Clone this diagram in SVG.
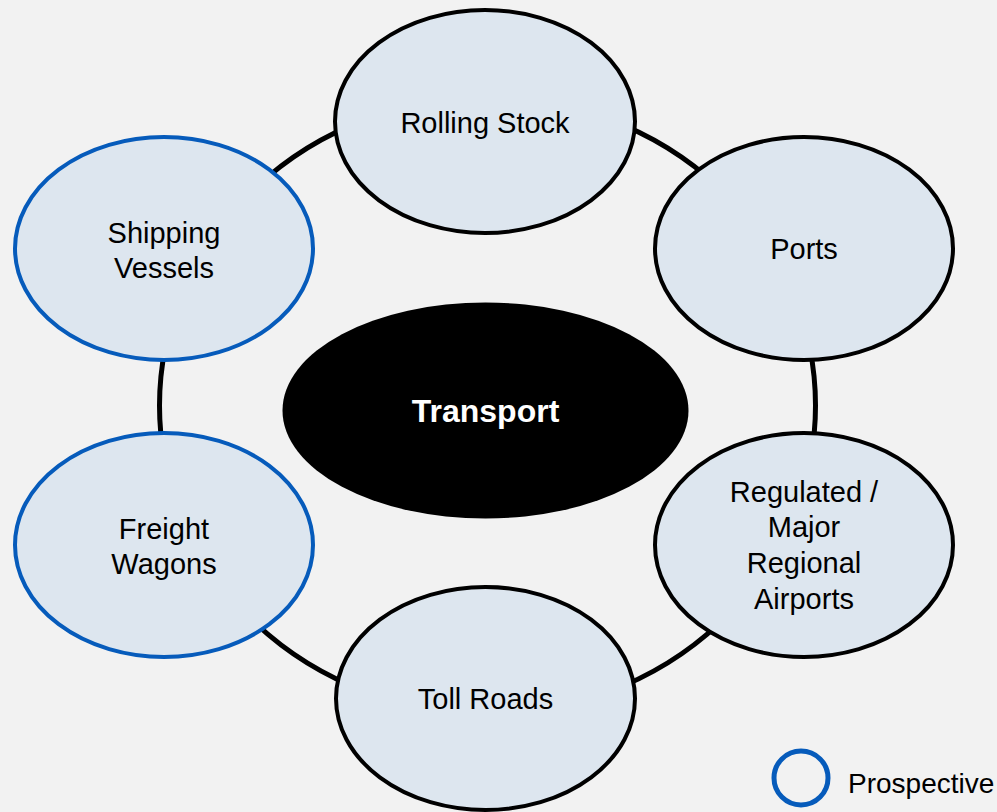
<svg xmlns="http://www.w3.org/2000/svg" width="997" height="812" viewBox="0 0 997 812">
<style>
.node{fill:#dde6ef;stroke:#000;stroke-width:4}
.prosp{stroke:#065bbb;stroke-width:4}
.lbl{font-family:"Liberation Sans",Arial,sans-serif;font-size:29px;fill:#000;text-anchor:middle}
.ring{fill:none;stroke:#000;stroke-width:5}
</style>
<rect x="0" y="0" width="997" height="812" fill="#f2f2f2"/>
<g id="connectors">
<ellipse class="ring" cx="487.5" cy="405.5" rx="328" ry="308"/>
</g>
<g id="transport">
<ellipse cx="485.5" cy="410.5" rx="203" ry="108" fill="#000"/>
<text class="lbl" x="485.5" y="422" style="font-weight:bold;font-size:32px;fill:#fff">Transport</text>
</g>
<g id="rolling-stock">
<ellipse class="node" cx="485" cy="121.5" rx="150" ry="111.5"/>
<text class="lbl" x="485" y="133">Rolling Stock</text>
</g>
<g id="ports">
<ellipse class="node" cx="804" cy="248.5" rx="149" ry="111.5"/>
<text class="lbl" x="804" y="259">Ports</text>
</g>
<g id="shipping-vessels">
<ellipse class="node prosp" cx="164" cy="248.5" rx="149" ry="111.5"/>
<text class="lbl" x="164" y="242.5">Shipping</text>
<text class="lbl" x="164" y="277.5">Vessels</text>
</g>
<g id="freight-wagons">
<ellipse class="node prosp" cx="164" cy="545" rx="149" ry="112"/>
<text class="lbl" x="164" y="538.5">Freight</text>
<text class="lbl" x="164" y="574">Wagons</text>
</g>
<g id="airports">
<ellipse class="node" cx="804" cy="545" rx="149" ry="112"/>
<text class="lbl" x="804" y="501.5">Regulated /</text>
<text class="lbl" x="804" y="537">Major</text>
<text class="lbl" x="804" y="573">Regional</text>
<text class="lbl" x="804" y="608.5">Airports</text>
</g>
<g id="toll-roads">
<ellipse class="node" cx="485.5" cy="698.5" rx="149.5" ry="111.5"/>
<text class="lbl" x="485.5" y="709">Toll Roads</text>
</g>
<g id="legend">
<circle cx="801" cy="778" r="27" fill="none" stroke="#065bbb" stroke-width="5"/>
<text class="lbl" x="848" y="792.5" style="text-anchor:start;font-size:28px">Prospective</text>
</g>
</svg>
